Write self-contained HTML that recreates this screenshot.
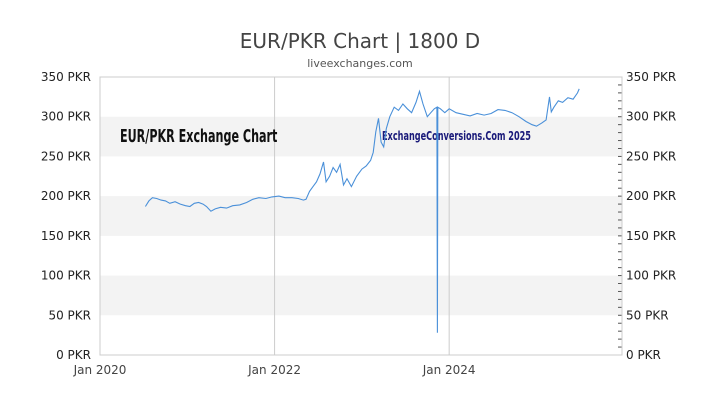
<!DOCTYPE html>
<html><head><meta charset="utf-8"><style>
body{margin:0;background:#fff;}
svg text{font-family:"DejaVu Sans","Liberation Sans",sans-serif;}
</style></head><body>
<svg id="c" width="720" height="405" viewBox="0 0 720 405">
<text x="360" y="48" text-anchor="middle" font-size="20" fill="#444">EUR/PKR Chart | 1800 D</text>
<text x="360" y="67" text-anchor="middle" font-size="11" fill="#555">liveexchanges.com</text>
<g id="bands"></g><g id="grid"></g>
<text x="120" y="142" font-size="18" font-weight="bold" fill="#111" transform="translate(120 0) scale(0.62 1) translate(-120 0)">EUR/PKR Exchange Chart</text>
<text x="382" y="140" font-size="12" font-weight="bold" fill="#1a1a7a" transform="translate(382 0) scale(0.68 1) translate(-382 0)">ExchangeConversions.Com 2025</text>
<g id="axes"></g><g id="series"></g>
</svg>
<script>
const yTicks=[0,50,100,150,200,250,300,350];
const xTickYears=[2020,2022,2024];
const xTickLabels=["Jan 2020","Jan 2022","Jan 2024"];
const dates=[2020.52,2020.56,2020.6,2020.65,2020.7,2020.75,2020.8,2020.86,2020.92,2020.98,2021.03,2021.08,2021.13,2021.18,2021.22,2021.27,2021.32,2021.38,2021.45,2021.52,2021.6,2021.68,2021.75,2021.82,2021.9,2021.97,2022.05,2022.12,2022.2,2022.27,2022.33,2022.36,2022.4,2022.44,2022.48,2022.52,2022.56,2022.59,2022.63,2022.67,2022.71,2022.75,2022.79,2022.83,2022.88,2022.94,2023.0,2023.05,2023.1,2023.13,2023.16,2023.19,2023.22,2023.25,2023.28,2023.32,2023.37,2023.42,2023.47,2023.52,2023.57,2023.62,2023.66,2023.7,2023.75,2023.79,2023.83,2023.86,2023.865,2023.87,2023.9,2023.95,2024.0,2024.08,2024.16,2024.24,2024.32,2024.4,2024.48,2024.56,2024.64,2024.72,2024.8,2024.88,2024.95,2025.0,2025.06,2025.11,2025.15,2025.17,2025.2,2025.25,2025.3,2025.36,2025.42,2025.47,2025.49];
const rates=[187,194,198,197,195,194,191,193,190,188,187,191,192,190,187,181,184,186,185,188,189,192,196,198,197,199,200,198,198,197,195,196,206,212,218,228,243,218,225,236,230,240,214,222,212,225,234,238,245,255,281,298,268,262,285,300,312,308,316,310,305,318,332,316,300,305,310,312,28,312,310,305,310,305,303,301,304,302,304,309,308,305,300,294,290,288,292,296,325,306,312,320,318,324,322,330,335];
const L=100,R=622,T=77,B=355,x0=2020,x1=2025.98;
const X=d=>L+(d-x0)/(x1-x0)*(R-L);
const Y=v=>B-v/350*(B-T);
const ns="http://www.w3.org/2000/svg";
function mk(t,a,p){const e=document.createElementNS(ns,t);for(const k in a)e.setAttribute(k,a[k]);p.appendChild(e);return e;}
const bands=document.getElementById('bands'),grid=document.getElementById('grid'),axes=document.getElementById('axes'),ser=document.getElementById('series');
for(let i=1;i<yTicks.length;i+=2){
  const r=mk('rect',{x:L,y:Y(yTicks[i+1]??yTicks[i]),width:R-L,height:Y(yTicks[i])-Y(yTicks[i+1]??yTicks[i]),fill:'#f3f3f3'},bands);
  
  
}
yTicks.forEach(v=>{
  const a=mk('text',{x:L-9,y:Y(v)+4,'text-anchor':'end','font-size':12,fill:'#222'},axes);a.textContent=v+' PKR';
  
  
  const b=mk('text',{x:R+4,y:Y(v)+4,'font-size':12,fill:'#222'},axes);b.textContent=v+' PKR';
  
  
});
for(let v=0;v<=350;v+=10){const t=mk('line',{x1:R-4,x2:R,y1:Y(v),y2:Y(v),stroke:'#555','stroke-width':1},axes);
  
  }
xTickYears.forEach((yr,i)=>{
  if(i>0){const g=mk('line',{x1:X(yr),x2:X(yr),y1:T,y2:B,stroke:'#ccc'},grid);
    
    }
  const t=mk('text',{x:X(yr),y:B+19,'text-anchor':'middle','font-size':12,fill:'#444'},axes);t.textContent=xTickLabels[i];
  
  
});
const fr=mk('rect',{x:L,y:T,width:R-L,height:B-T,fill:'none',stroke:'#ccc'},axes);


const line=mk('polyline',{points:dates.map((d,i)=>X(d).toFixed(1)+','+Y(rates[i]).toFixed(1)).join(' '),fill:'none',stroke:'#4a90d9','stroke-width':1.1},ser);


</script>
</body></html>
